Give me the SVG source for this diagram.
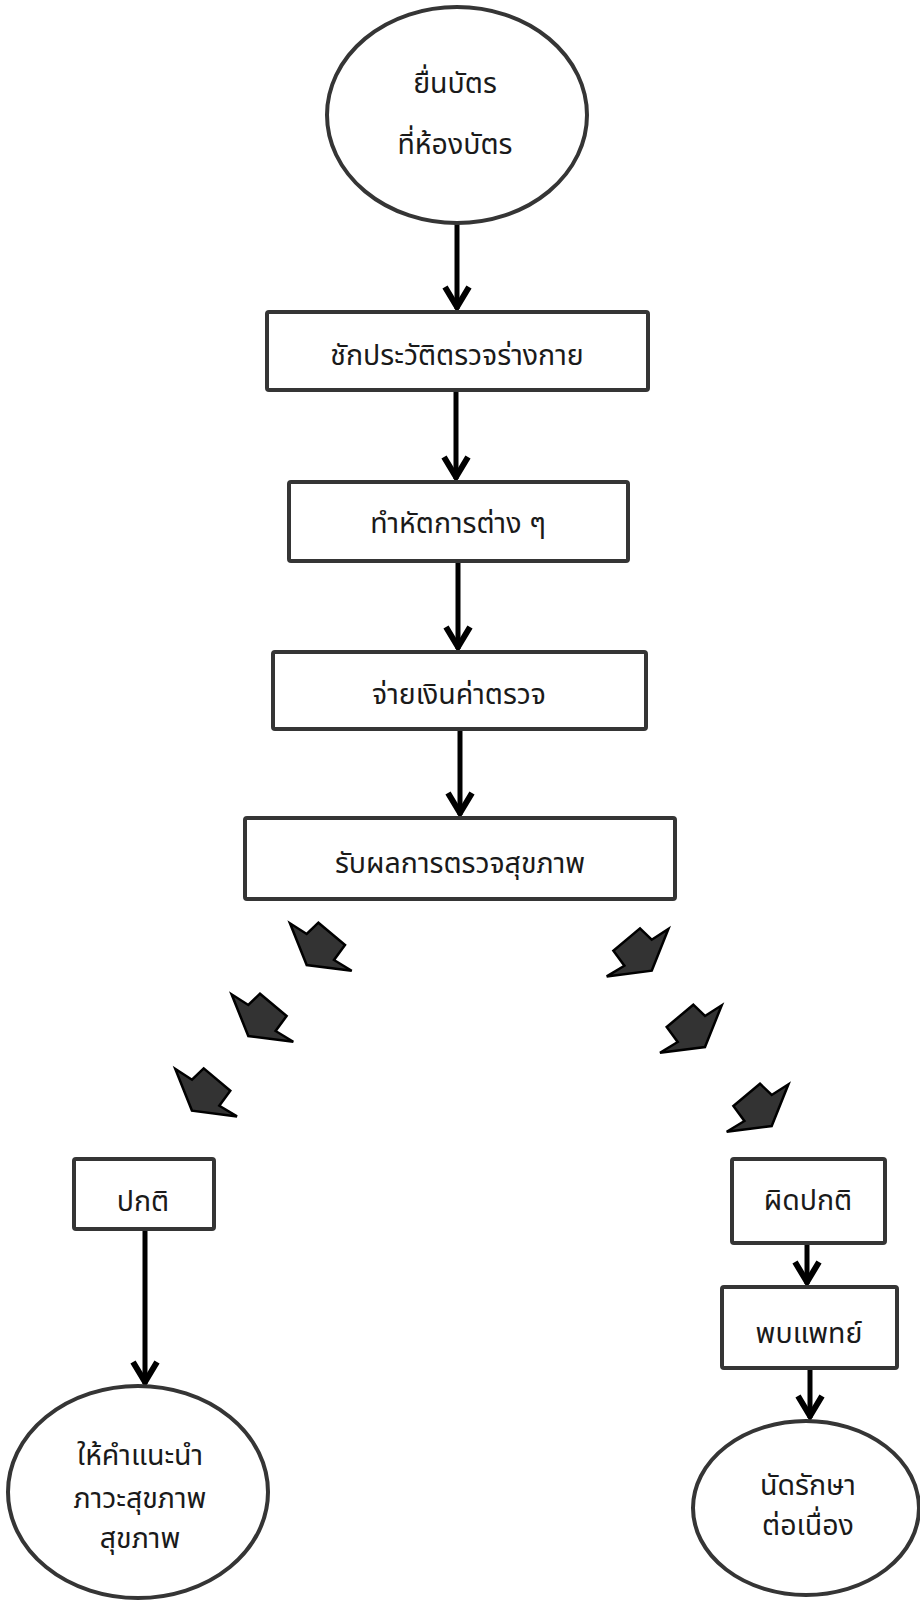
<svg xmlns="http://www.w3.org/2000/svg" width="920" height="1600" viewBox="0 0 920 1600">
<style>
.node{fill:#fff;stroke:#353535;stroke-width:4}
.t{font-family:"Noto Sans","Noto Sans Thai","DejaVu Sans",sans-serif;font-size:28.5px;fill:#1a1a1a;text-anchor:middle}
.conn{stroke:#000;stroke-width:5;fill:none}
.blk{fill:#333;stroke:#000;stroke-width:2.5;stroke-linejoin:miter}
</style>
<defs>
<marker id="ah" markerUnits="userSpaceOnUse" viewBox="-30 -20 34 40" markerWidth="34" markerHeight="40" refX="0" refY="0" orient="auto" overflow="visible">
<path d="M-22,-12 L-2,0 L-22,12" fill="none" stroke="#000" stroke-width="6"/>
</marker>
<path id="ba" d="M0,0 L-16.7,-41.7 L0,-31 L11.7,-42.3 L38.3,-20 L27.3,-5 L45,5.7 Z"/>
</defs>
<rect width="920" height="1600" fill="#fff"/>
<g id="connectors">
<path class="conn" d="M457,224 V309" marker-end="url(#ah)"/>
<path class="conn" d="M456,390 V479" marker-end="url(#ah)"/>
<path class="conn" d="M458,561 V649" marker-end="url(#ah)"/>
<path class="conn" d="M460,729 V815" marker-end="url(#ah)"/>
<path class="conn" d="M145,1229 V1384" marker-end="url(#ah)"/>
<path class="conn" d="M807,1243 V1284" marker-end="url(#ah)"/>
<path class="conn" d="M810,1368 V1418" marker-end="url(#ah)"/>
<g id="block-arrows">
<use href="#ba" class="blk" transform="translate(306.7,965)"/>
<use href="#ba" class="blk" transform="translate(248.3,1036)"/>
<use href="#ba" class="blk" transform="translate(192,1110.7)"/>
<use href="#ba" class="blk" transform="translate(651.7,970.7) scale(-1,1)"/>
<use href="#ba" class="blk" transform="translate(705,1047) scale(-1,1)"/>
<use href="#ba" class="blk" transform="translate(771.7,1126) scale(-1,1)"/>
</g>
</g>
<g id="n-start">
<ellipse class="node" cx="457" cy="115" rx="130" ry="108"/>
<text class="t" x="455" y="93">ยื่นบัตร</text>
<text class="t" x="455" y="154">ที่ห้องบัตร</text>
</g>
<g id="n-history">
<rect class="node" x="267" y="312" width="381" height="78" rx="2"/>
<text class="t" x="457" y="365">ชักประวัติตรวจร่างกาย</text>
</g>
<g id="n-procedures">
<rect class="node" x="289" y="482" width="339" height="79" rx="2"/>
<text class="t" x="458" y="533">ทำหัตการต่าง ๆ</text>
</g>
<g id="n-pay">
<rect class="node" x="273" y="652" width="373" height="77" rx="2"/>
<text class="t" x="459" y="704">จ่ายเงินค่าตรวจ</text>
</g>
<g id="n-result">
<rect class="node" x="245" y="818" width="430" height="81" rx="2"/>
<text class="t" x="460" y="873">รับผลการตรวจสุขภาพ</text>
</g>
<g id="n-normal">
<rect class="node" x="74" y="1159" width="140" height="70" rx="2"/>
<text class="t" x="143" y="1211">ปกติ</text>
</g>
<g id="n-abnormal">
<rect class="node" x="732" y="1159" width="153" height="84" rx="2"/>
<text class="t" x="808" y="1210">ผิดปกติ</text>
</g>
<g id="n-doctor">
<rect class="node" x="722" y="1287" width="175" height="81" rx="2"/>
<text class="t" x="809" y="1343">พบแพทย์</text>
</g>
<g id="n-advice">
<ellipse class="node" cx="138" cy="1492" rx="130" ry="106"/>
<text class="t" x="140" y="1465">ให้คำแนะนำ</text>
<text class="t" x="140" y="1508">ภาวะสุขภาพ</text>
<text class="t" x="140" y="1548">สุขภาพ</text>
</g>
<g id="n-appoint">
<ellipse class="node" cx="806" cy="1508" rx="113" ry="87"/>
<text class="t" x="808" y="1495">นัดรักษา</text>
<text class="t" x="808" y="1535">ต่อเนื่อง</text>
</g>
</svg>
